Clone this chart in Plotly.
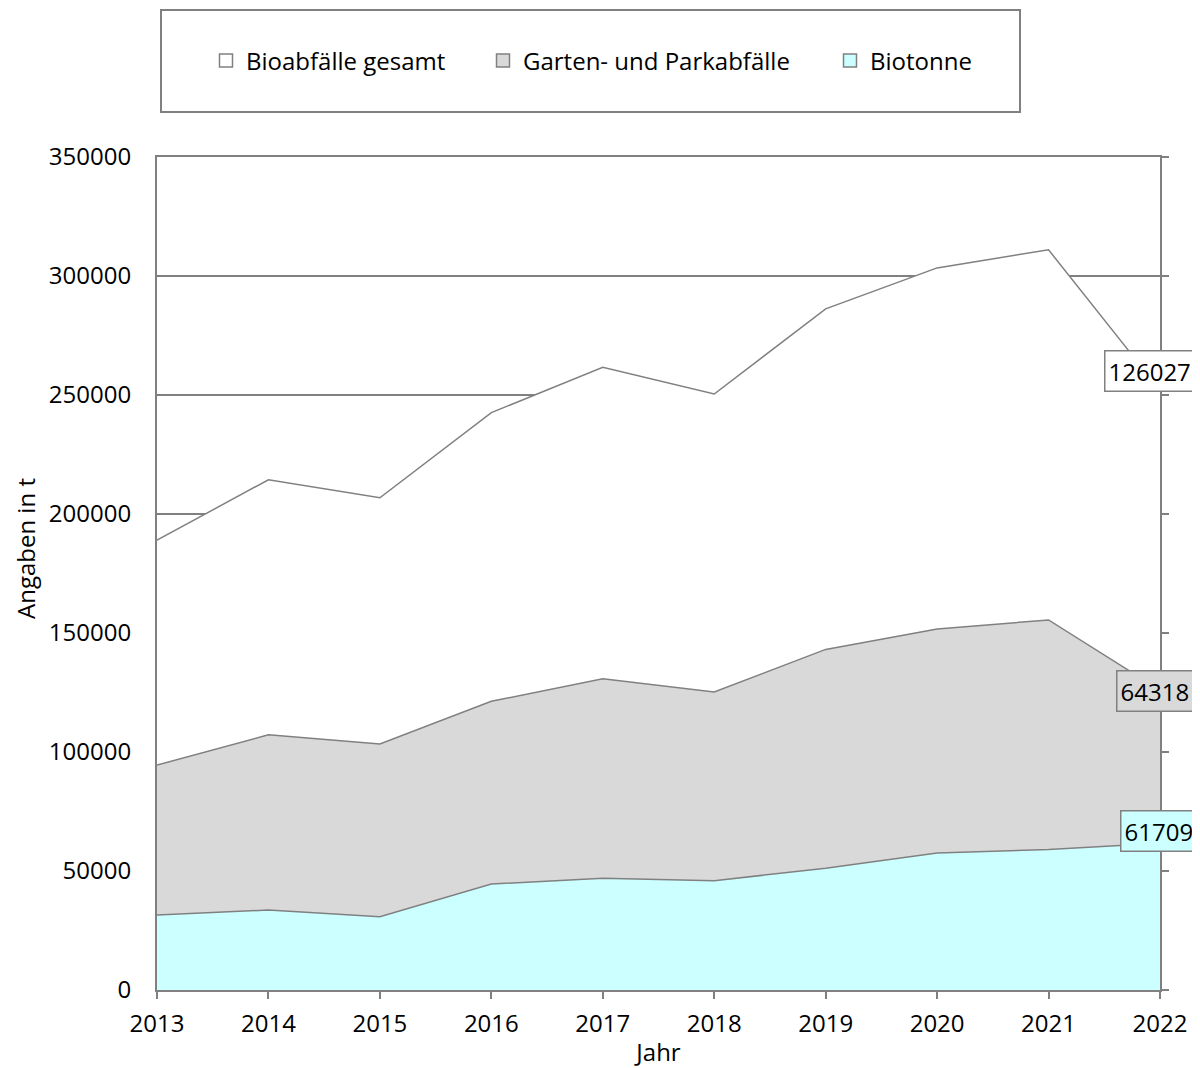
import plotly.graph_objects as go

# ---- data ----
years = [2013, 2014, 2015, 2016, 2017, 2018, 2019, 2020, 2021, 2022]
biotonne = [31500, 33600, 30800, 44500, 47000, 45900, 51200, 57600, 59000, 61709]
garten = [63000, 73600, 72600, 76800, 83800, 79300, 91900, 94100, 96500, 64318]
gesamt = [94500, 107200, 103400, 121300, 130800, 125200, 143100, 151700, 155500, 126027]
y_tickvals = [0, 50000, 100000, 150000, 200000, 250000, 300000, 350000]
y_ticktext = ["0", "50000", "100000", "150000", "200000", "250000", "300000", "350000"]

names = ["Biotonne", "Garten- und Parkabfälle", "Bioabfälle gesamt"]
series = [biotonne, garten, gesamt]
fills = ["#ccffff", "#d9d9d9", "#ffffff"]

FONT = "Open Sans"
FS = 24
GREY = "#808080"

# page geometry (the page body has an 8px margin)
OFF = 8
W, H = 1192, 1060
L, T = 157 - OFF, 157 - OFF
R = W - (1160 - OFF)
B = H - (990 - OFF)
pw, ph = W - L - R, H - T - B


def px_x(p):
    """page x pixel -> paper coord"""
    return (p - OFF - L) / pw


def px_y(p):
    """page y pixel -> paper coord"""
    return (H - B - (p - OFF)) / ph


fig = go.Figure()

for name, vals, col in zip(names, series, fills):
    fig.add_trace(go.Scatter(
        x=years, y=vals, name=name, mode="lines",
        stackgroup="one", fillcolor=col,
        line=dict(color=GREY, width=1.5),
        showlegend=False, hoverinfo="x+y+name",
    ))

# legend entries (square icons), each in its own legend for exact placement
legend_order = [("Bioabfälle gesamt", "#ffffff", "legend"),
                ("Garten- und Parkabfälle", "#d9d9d9", "legend2"),
                ("Biotonne", "#ccffff", "legend3")]
for name, col, lg in legend_order:
    fig.add_trace(go.Scatter(
        x=[None], y=[None], mode="markers", name=name,
        marker=dict(symbol="square", size=13, color=col,
                    line=dict(color=GREY, width=1.5)),
        showlegend=True, legend=lg, hoverinfo="skip",
    ))

# right-side axis with outward ticks
fig.add_trace(go.Scatter(x=[None], y=[None], yaxis="y2", showlegend=False,
                         hoverinfo="skip"))

# data labels at the last year
last = len(years) - 1
lab_specs = [
    (biotonne[last], biotonne[last], "#ccffff", -1, 12),
    (garten[last], biotonne[last] + garten[last], "#d9d9d9", -5, -1),
    (gesamt[last], biotonne[last] + garten[last] + gesamt[last], "#ffffff", -11, 19),
]
for val, ypos, col, xs, ys in lab_specs:
    fig.add_annotation(
        x=years[last], y=ypos, text=str(val), showarrow=False,
        xshift=xs, yshift=ys, bgcolor=col, bordercolor=GREY,
        borderwidth=1.5, borderpad=3,
        font=dict(family=FONT, size=FS, color="#000000"),
    )

# y axis title
fig.add_annotation(
    xref="paper", yref="paper", x=px_x(25), y=px_y(549),
    text="Angaben in t", textangle=-90, showarrow=False,
    xanchor="center", yanchor="middle", borderpad=0,
    font=dict(family=FONT, size=FS, color="#000000"),
)

# legend frame
fig.add_shape(type="rect", xref="paper", yref="paper",
              x0=px_x(161), x1=px_x(1020), y0=px_y(112), y1=px_y(10),
              line=dict(color=GREY, width=2), fillcolor="rgba(0,0,0,0)")

leg_common = dict(orientation="h", yanchor="middle", xanchor="left",
                  bgcolor="rgba(0,0,0,0)", borderwidth=0,
                  font=dict(family=FONT, size=FS, color="#000000"))

fig.update_layout(
    width=W, height=H,
    margin=dict(l=L, r=R, t=T, b=B, autoexpand=False),
    paper_bgcolor="#ffffff", plot_bgcolor="#ffffff",
    font=dict(family=FONT, size=FS, color="#000000"),
    legend=dict(x=px_x(206), y=px_y(61), **leg_common),
    legend2=dict(x=px_x(483), y=px_y(61), **leg_common),
    legend3=dict(x=px_x(830), y=px_y(61), **leg_common),
    xaxis=dict(
        range=[years[0], years[-1]], tickmode="array", tickvals=years,
        ticktext=[str(y) for y in years],
        showline=True, mirror=True, linecolor=GREY, linewidth=2,
        ticks="outside", ticklen=7, tickwidth=2, tickcolor=GREY,
        ticklabelstandoff=4,
        showgrid=False, zeroline=False,
        tickfont=dict(family=FONT, size=FS, color="#000000"),
        title=dict(text="Jahr", standoff=17,
                   font=dict(family=FONT, size=FS, color="#000000")),
    ),
    yaxis=dict(
        range=[0, 350000], tickmode="array", tickvals=y_tickvals,
        ticktext=y_ticktext,
        showline=True, linecolor=GREY, linewidth=2,
        ticks="", ticklabelstandoff=19,
        showgrid=True, gridcolor=GREY, gridwidth=2, zeroline=False,
        tickfont=dict(family=FONT, size=FS, color="#000000"),
    ),
    yaxis2=dict(
        overlaying="y", side="right", range=[0, 350000],
        tickmode="array", tickvals=y_tickvals,
        showline=True, linecolor=GREY, linewidth=2,
        ticks="outside", ticklen=7, tickwidth=2, tickcolor=GREY,
        showticklabels=False, showgrid=False, zeroline=False,
    ),
)

fig.write_html("out.html")
